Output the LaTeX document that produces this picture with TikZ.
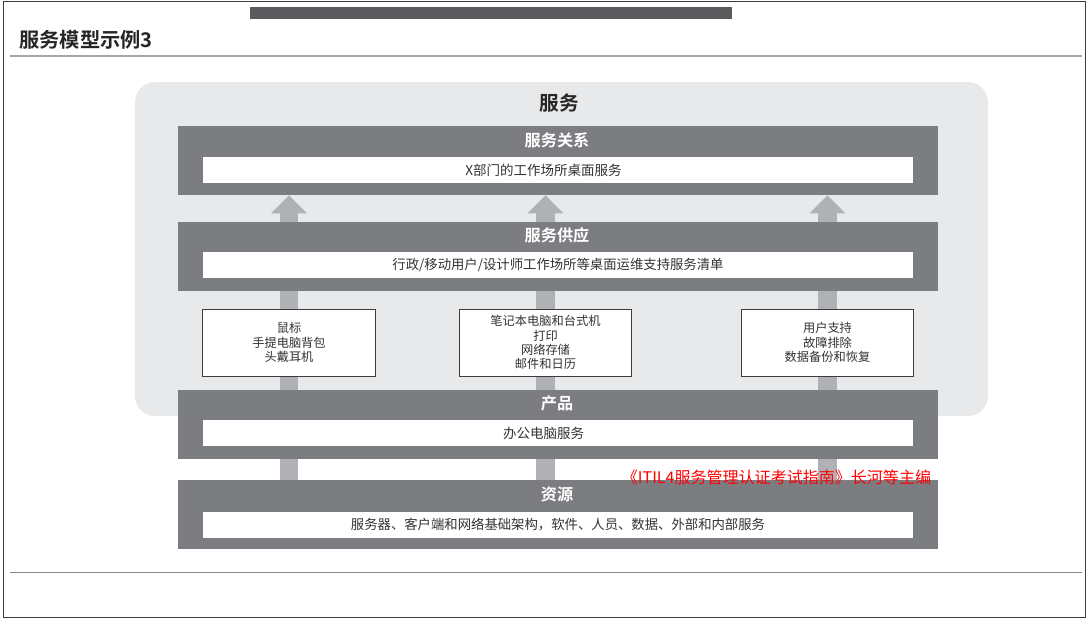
\documentclass[tikz,border=0pt]{standalone}
\usepackage{fontspec}
\setmainfont{Noto Sans CJK SC}[BoldFont={Noto Sans CJK SC Bold}]
\usetikzlibrary{arrows.meta,positioning}
\definecolor{bandgray}{HTML}{7C7D81}
\definecolor{arrgray}{HTML}{B0B1B5}
\definecolor{panelgray}{HTML}{E8E9EB}
\definecolor{topgray}{HTML}{5B5B5D}
\definecolor{linegray}{HTML}{A6A6A6}
\definecolor{textgray}{HTML}{333333}
\definecolor{boxline}{HTML}{3C3C3C}
\pgfdeclarelayer{back}
\pgfdeclarelayer{mid}
\pgfsetlayers{back,mid,main}

\begin{document}
\begin{tikzpicture}[x=0.025cm,y=-0.025cm,
  band/.style={fill=bandgray,minimum width=19cm,minimum height=1.725cm,inner sep=0pt},
  bandtitle/.style={font=\bfseries\fontsize{11.5}{12}\selectfont,text=white,inner sep=0pt},
  bar/.style={fill=white,minimum width=17.75cm,minimum height=0.65cm,inner sep=0pt,
    font=\fontsize{9.5}{11}\selectfont,text=textgray},
  bartext/.style={inner sep=0pt,font=\fontsize{9.6}{11}\selectfont,text=textgray},
  item/.style={draw=boxline,fill=white,line width=0.7pt,minimum width=4.3cm,minimum height=1.675cm,
    align=center,inner sep=0pt,font=\fontsize{8.7}{10.2}\selectfont,text=textgray},
  uparr/.style={draw=arrgray,line width=0.47cm,-{Triangle[length=0.45cm,width=0.9cm,line width=0pt]}}]
\useasboundingbox (0,0) rectangle (1091,621);
\draw[boxline,line width=0.7pt] (3,1) rectangle (1085,617);
\fill[topgray] (250,7) rectangle (732,19);
\node[anchor=west,font=\bfseries\fontsize{14.4}{16}\selectfont,text=black!85,inner sep=0pt] (title) at (19,40) {服务模型示例3};
\draw[linegray,line width=1.1pt] (10,56) -- (1082,56);
\draw[linegray!80!black,line width=0.6pt] (10,572) -- (1082,572);

\begin{pgfonlayer}{back}
\fill[panelgray,rounded corners=0.5cm] (135,82) rectangle (988,416);
\end{pgfonlayer}
\node[font=\bfseries\fontsize{14}{16}\selectfont,text=black!85,inner sep=0pt] (svc) at (559,103) {服务};

\node[band] (rel) at (558,160.5) {};
\node[bandtitle] (relt) at (557,140) {服务关系};
\node[bar] (relbar) at (558,170) {};
\node[bartext] (relx) at (543.5,170) {X部门的工作场所桌面服务};

\node[band] (sup) at (558,256) {};
\node[bandtitle] (supt) at (557,235) {服务供应};
\node[bar] (supbar) at (558,265) {行政/移动用户/设计师工作场所等桌面运维支持服务清单};

\node[item] (b1) at (289,342.5) {鼠标\\手提电脑背包\\头戴耳机};
\node[item] (b2) at (545.5,342.5) {笔记本电脑和台式机\\打印\\网络存储\\邮件和日历};
\node[item] (b3) at (827.5,342.5) {用户支持\\故障排除\\数据备份和恢复};

\node[band] (prod) at (558,424) {};
\node[bandtitle] (prodt) at (557,403.5) {产品};
\node[bar] (prodbar) at (558,433) {};
\node[bartext] (prodx) at (543.5,433) {办公电脑服务};

\node[band] (res) at (558,514.5) {};
\node[bandtitle] (rest) at (557,494) {资源};
\node[bar] (resbar) at (558,524.5) {服务器、客户端和网络基础架构，软件、人员、数据、外部和内部服务};

\begin{pgfonlayer}{mid}
\draw[uparr] (res.north -| b1) -- (rel.south -| b1);
\draw[uparr] (res.north -| b2) -- (rel.south -| b2);
\draw[uparr] (res.north -| b3) -- (rel.south -| b3);
\end{pgfonlayer}

\node[text=red,font=\fontsize{11.4}{13}\selectfont,inner sep=0pt] (src) at (776.5,477.5) {《ITIL4服务管理认证考试指南》长河等主编};
\end{tikzpicture}
\end{document}
